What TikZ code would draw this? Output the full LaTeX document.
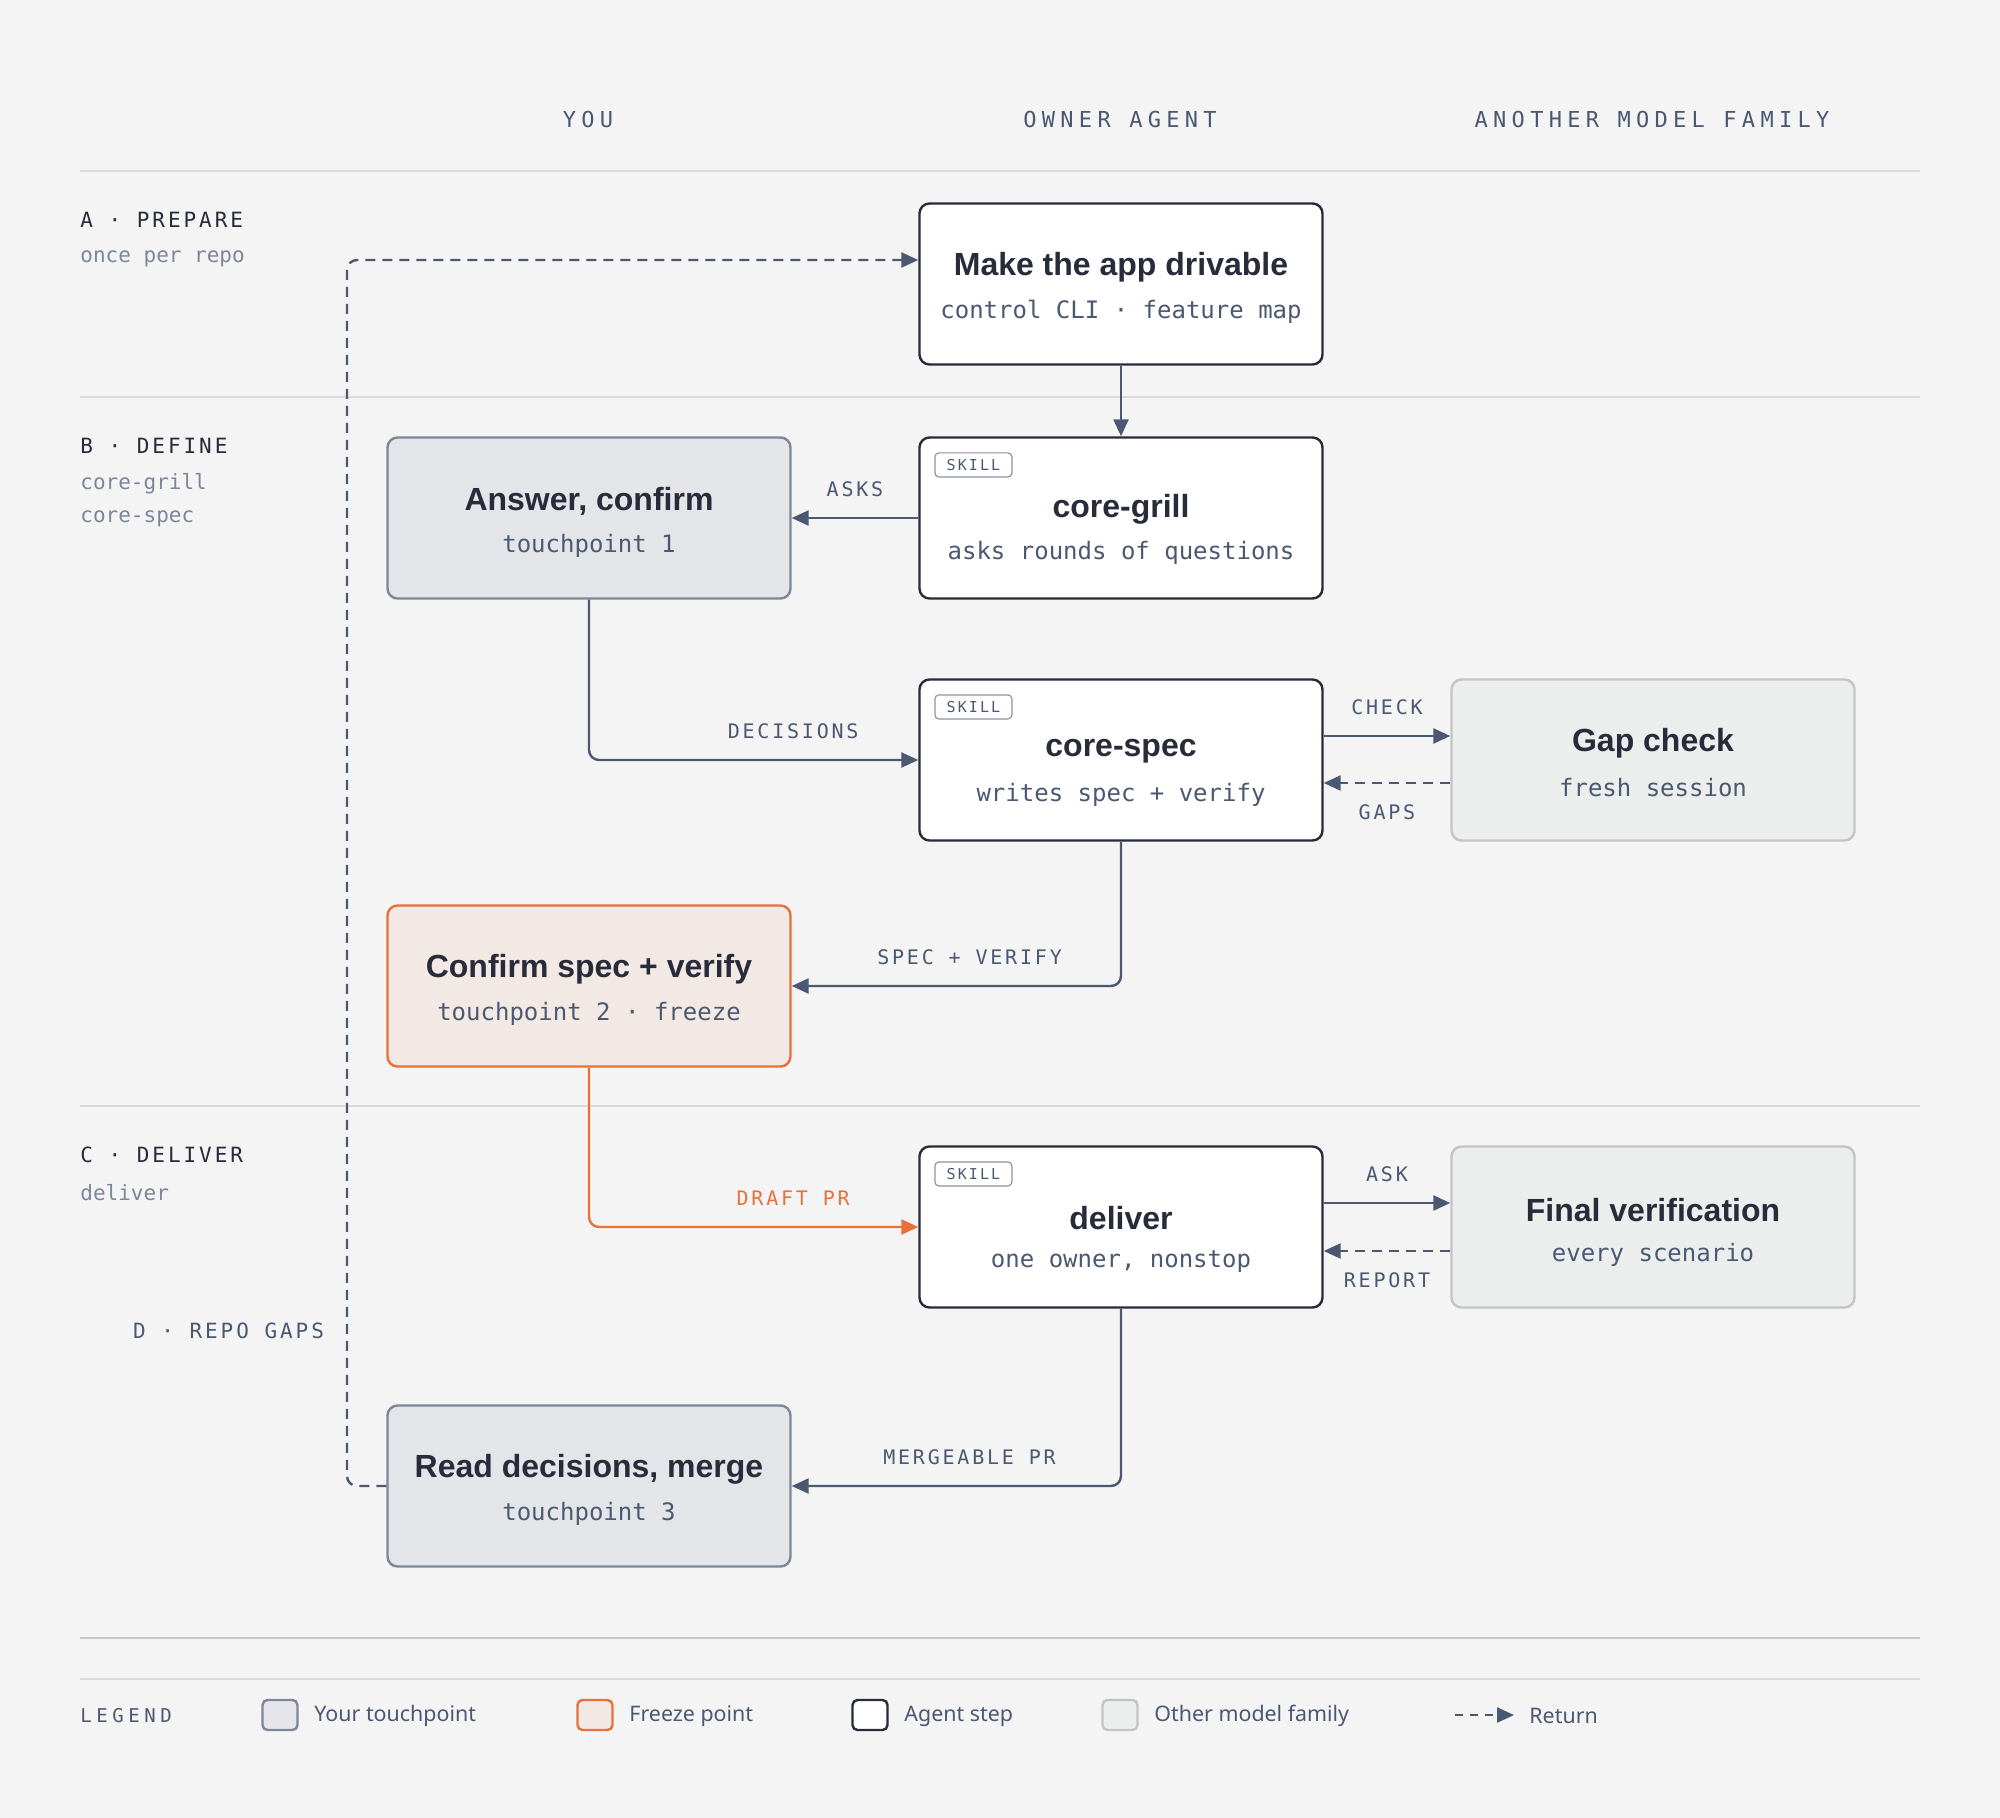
\documentclass[tikz,border=0pt]{standalone}
\usepackage{fontspec}
\setmainfont{Noto Sans}
\newfontfamily\titlefont{Liberation Sans}
\newfontfamily\codefont{DejaVu Sans Mono}
\newfontfamily\trackmono[LetterSpace=14]{DejaVu Sans Mono}
\newfontfamily\widemono[LetterSpace=24]{DejaVu Sans Mono}
\usetikzlibrary{arrows.meta}

\definecolor{canvas}{HTML}{F4F4F4}
\definecolor{ink}{HTML}{272B3A}
\definecolor{slate}{HTML}{4B5872}
\definecolor{muted}{HTML}{7C869B}
\definecolor{rulegray}{HTML}{DADADA}
\definecolor{ruledark}{HTML}{C8C8CC}
\definecolor{touchfill}{HTML}{E4E5E9}
\definecolor{touchline}{HTML}{7D8699}
\definecolor{freezefill}{HTML}{F3E9E4}
\definecolor{freeze}{HTML}{E8703A}
\definecolor{otherfill}{HTML}{ECEEED}
\definecolor{otherline}{HTML}{C3C4C8}
\definecolor{tagline}{HTML}{8E93A0}

\begin{document}
\begin{tikzpicture}[x=0.5pt, y=-0.5pt,
    box/.style={rounded corners=5pt, minimum width=201.5pt, minimum height=80.5pt, line width=1.2pt, inner sep=0pt},
    agent/.style={box, draw=ink, fill=white},
    touch/.style={box, draw=touchline, fill=touchfill},
    frz/.style={box, draw=freeze, fill=freezefill},
    other/.style={box, draw=otherline, fill=otherfill},
    ttl/.style={text=ink, font=\titlefont\bfseries\fontsize{16}{18}\selectfont},
    sub/.style={text=slate, font=\codefont\fontsize{12}{14}\selectfont},
    tag/.style={draw=tagline, fill=white, rounded corners=2pt, line width=0.6pt, minimum width=38.5pt, minimum height=12pt, inner sep=0pt, text=slate, font=\trackmono\fontsize{7.5}{9}\selectfont},
    head/.style={text=slate, font=\widemono\fontsize{11}{13}\selectfont},
    sec/.style={anchor=west, inner xsep=0pt, text=ink, font=\trackmono\fontsize{10.5}{12}\selectfont},
    secsub/.style={anchor=west, inner xsep=0pt, text=muted, font=\codefont\fontsize{10.5}{12}\selectfont},
    lbl/.style={text=slate, font=\trackmono\fontsize{10}{12}\selectfont},
    flow/.style={draw=slate, line width=1.2pt, rounded corners=5pt, -{Triangle[length=8.5pt,width=7.5pt]}},
    ret/.style={flow, dash pattern=on 5pt off 3.5pt},
    swatch/.style={rounded corners=2.5pt, minimum width=17.5pt, minimum height=15pt, line width=1.2pt, inner sep=0pt},
    keytxt/.style={anchor=west, inner xsep=0pt, text=slate, font=\fontsize{10.7}{12}\selectfont}]
  \fill[canvas] (0,0) rectangle (2000,1818);
  \useasboundingbox (0,0) rectangle (2000,1818);

  % column heads and lanes
  \node[head] (hyou) at (588,119) {YOU};
  \node[head] (hagent) at (1120,119) {OWNER AGENT};
  \node[head] (hother) at (1652,119) {ANOTHER MODEL FAMILY};
  \draw[rulegray, line width=1pt] (80,171) -- (1920,171);
  \draw[rulegray, line width=1pt] (80,397) -- (1920,397);
  \draw[rulegray, line width=1pt] (80,1106) -- (1920,1106);
  \draw[ruledark, line width=1pt] (80,1638) -- (1920,1638);
  \draw[rulegray, line width=0.8pt] (80,1679) -- (1920,1679);

  % phases
  \node[sec] (secA) at (80,220) {A · PREPARE};
  \node[secsub] (secAs) at (80,259) {once per repo};
  \node[sec] (secB) at (80,446) {B · DEFINE};
  \node[secsub] (secBs) at (80,484) {core-grill};
  \node[secsub] (secBt) at (80,519) {core-spec};
  \node[sec] (secC) at (80,1155) {C · DELIVER};
  \node[secsub] (secCs) at (80,1193) {deliver};

  % A
  \node[agent] (make) at (1121,284) {};
  \node[ttl] (makeT) at ([yshift=8.5pt]make.center) {Make the app drivable};
  \node[sub] (makeS) at ([yshift=-14pt]make.center) {control CLI · feature map};

  % B
  \node[agent] (grill) at (1121,518) {};
  \node[tag, anchor=north west] (grillK) at ([xshift=8pt,yshift=-8pt]grill.north west) {SKILL};
  \node[ttl] (grillT) at ([yshift=4.5pt]grill.center) {core-grill};
  \node[sub] (grillS) at ([yshift=-17.5pt]grill.center) {asks rounds of questions};

  \node[touch] (answer) at (589,518) {};
  \node[ttl] (answerT) at ([yshift=8.5pt]answer.center) {Answer, confirm};
  \node[sub] (answerS) at ([yshift=-14pt]answer.center) {touchpoint 1};

  \node[agent] (spec) at (1121,760) {};
  \node[tag, anchor=north west] (specK) at ([xshift=8pt,yshift=-8pt]spec.north west) {SKILL};
  \node[ttl] (specT) at ([yshift=4.5pt]spec.center) {core-spec};
  \node[sub] (specS) at ([yshift=-17.5pt]spec.center) {writes spec + verify};

  \node[other] (gap) at (1653,760) {};
  \node[ttl] (gapT) at ([yshift=8.5pt]gap.center) {Gap check};
  \node[sub] (gapS) at ([yshift=-14pt]gap.center) {fresh session};

  \node[frz] (confirm) at (589,986) {};
  \node[ttl] (confirmT) at ([yshift=8.5pt]confirm.center) {Confirm spec + verify};
  \node[sub] (confirmS) at ([yshift=-14pt]confirm.center) {touchpoint 2 · freeze};

  % C
  \node[agent] (deliver) at (1121,1227) {};
  \node[tag, anchor=north west] (deliverK) at ([xshift=8pt,yshift=-8pt]deliver.north west) {SKILL};
  \node[ttl] (deliverT) at ([yshift=4.5pt]deliver.center) {deliver};
  \node[sub] (deliverS) at ([yshift=-17.5pt]deliver.center) {one owner, nonstop};

  \node[other] (final) at (1653,1227) {};
  \node[ttl] (finalT) at ([yshift=8.5pt]final.center) {Final verification};
  \node[sub] (finalS) at ([yshift=-14pt]final.center) {every scenario};

  \node[touch] (read) at (589,1486) {};
  \node[ttl] (readT) at ([yshift=8.5pt]read.center) {Read decisions, merge};
  \node[sub] (readS) at ([yshift=-14pt]read.center) {touchpoint 3};

  % connectors
  \draw[flow] (make) -- (grill);
  \draw[flow] (grill) -- node[lbl, yshift=14.5pt] (asks) {ASKS} (answer);
  \draw[flow] (answer.south) |- node[lbl, pos=0.81, yshift=14.5pt] (decisions) {DECISIONS} (spec.west);
  \draw[flow] ([yshift=12pt]spec.east) -- node[lbl, yshift=14.5pt] (check) {CHECK} ([yshift=12pt]gap.west);
  \draw[ret] ([yshift=-11.5pt]gap.west) -- node[lbl, yshift=-14.5pt] (gaps) {GAPS} ([yshift=-11.5pt]spec.east);
  \draw[flow] (spec.south) |- node[lbl, pos=0.73, yshift=14.5pt] (specver) {SPEC + VERIFY} (confirm.east);
  \draw[flow, draw=freeze] (confirm.south) |- node[lbl, text=freeze, pos=0.81, yshift=14.5pt] (draft) {DRAFT PR} (deliver.west);
  \draw[flow] ([yshift=12pt]deliver.east) -- node[lbl, yshift=14.5pt] (ask) {ASK} ([yshift=12pt]final.west);
  \draw[ret] ([yshift=-12pt]final.west) -- node[lbl, yshift=-14.5pt] (report) {REPORT} ([yshift=-12pt]deliver.east);
  \draw[flow] (deliver.south) |- node[lbl, pos=0.73, yshift=14.5pt] (mergeable) {MERGEABLE PR} (read.east);

  % D: return loop
  \coordinate (rail) at (347,900);
  \draw[ret] (read.west) -| (rail) |- ([yshift=12pt]make.west);
  \node[lbl, anchor=east, font=\trackmono\fontsize{10.5}{12}\selectfont] (repogaps) at (331,1331) {D · REPO GAPS};

  % legend
  \node[lbl, anchor=west, inner xsep=0pt, font=\widemono\fontsize{9.5}{11}\selectfont] (legend) at (80,1716) {LEGEND};
  \node[swatch, draw=touchline, fill=touchfill] (keyTouch) at (280,1715) {};
  \node[keytxt] (keyTouchT) at (314,1716) {Your touchpoint};
  \node[swatch, draw=freeze, fill=freezefill] (keyFreeze) at (595,1715) {};
  \node[keytxt] (keyFreezeT) at (629,1716) {Freeze point};
  \node[swatch, draw=ink, fill=white] (keyAgent) at (870,1715) {};
  \node[keytxt] (keyAgentT) at (904,1716) {Agent step};
  \node[swatch, draw=otherline, fill=otherfill] (keyOther) at (1120,1715) {};
  \node[keytxt] (keyOtherT) at (1154,1716) {Other model family};
  \coordinate (keyRetA) at (1455,1715);
  \coordinate (keyRetB) at (1514,1715);
  \draw[ret, dash pattern=on 4pt off 3.5pt] (keyRetA) -- (keyRetB);
  \node[keytxt] (keyRetT) at (1529,1716) {Return};
\end{tikzpicture}
\end{document}
